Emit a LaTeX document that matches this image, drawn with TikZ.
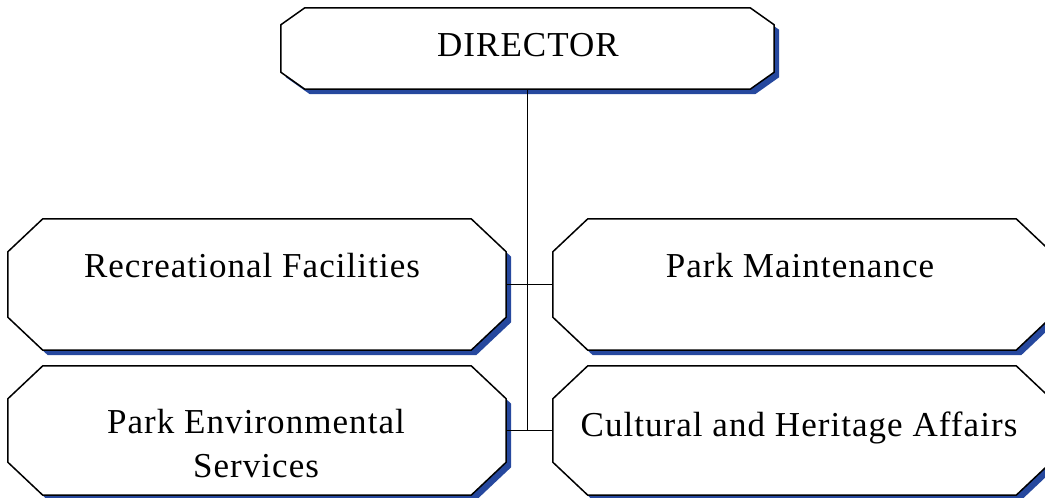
\documentclass[tikz,border=0pt]{standalone}
\usepackage{fontspec}
\setmainfont{Liberation Serif}[LetterSpace=3]
\usetikzlibrary{calc, shadows, backgrounds}
\definecolor{shadowblue}{RGB}{38,72,158}
\tikzset{
  unit/.style={minimum width=498pt, minimum height=131pt, inner sep=0pt},
  head/.style={minimum width=493pt, minimum height=81pt, inner sep=0pt},
  frame/.style={draw=black, line width=1.5pt, fill=white, line join=miter,
    drop shadow={shadow xshift=5pt, shadow yshift=-5pt, fill=shadowblue, opacity=1}},
  caption/.style={font=\fontsize{35}{44}\selectfont, align=center, inner sep=0pt},
  link/.style={draw=black, line width=1.2pt}
}
% octagon round a node: node, chamfer x, chamfer y
\newcommand\octagon[3]{($(#1.north west)+(#2,0)$) -- ($(#1.north east)+(-#2,0)$)
  -- ($(#1.north east)+(0,#3)$) -- ($(#1.south east)+(0,-#3)$)
  -- ($(#1.south east)+(-#2,0)$) -- ($(#1.south west)+(#2,0)$)
  -- ($(#1.south west)+(0,-#3)$) -- ($(#1.north west)+(0,#3)$) -- cycle}

\begin{document}
\begin{tikzpicture}[x=1pt, y=-1pt]
  \useasboundingbox (0,0) rectangle (1045,498);
  % boxes
  \node[head] (dir) at (527.5,48.5) {};
  \node[unit] (rec) at (257,284.5) {};
  \node[unit] (pm) at (802,284.5) {};
  \node[unit, minimum height=129pt] (pes) at (257,430.5) {};
  \node[unit, minimum height=129pt] (cha) at (802,430.5) {};
  \begin{scope}[on background layer]
    \draw[frame] \octagon{dir}{24}{17};
    \draw[frame] \octagon{rec}{35}{33};
    \draw[frame] \octagon{pm}{35}{33};
    \draw[frame] \octagon{pes}{35}{33};
    \draw[frame] \octagon{cha}{35}{33};
  \end{scope}
  % texts
  \node[caption] (dirtext) at (528,45.5) {DIRECTOR};
  \node[caption] (rectext) at (252,265.5) {Recreational Facilities};
  \node[caption] (pmtext) at (800,265.5) {Park Maintenance};
  \node[caption] (pestext) at (256,444) {Park Environmental\\Services};
  \node[caption] (chatext) at (799,427.5) {Cultural and Heritage Affairs};
  % connectors
  \draw[link] (dir.south) -- (dir.south |- pes.east);
  \draw[link] (rec.east) -- (pm.west);
  \draw[link] (pes.east) -- (cha.west);
\end{tikzpicture}
\end{document}
